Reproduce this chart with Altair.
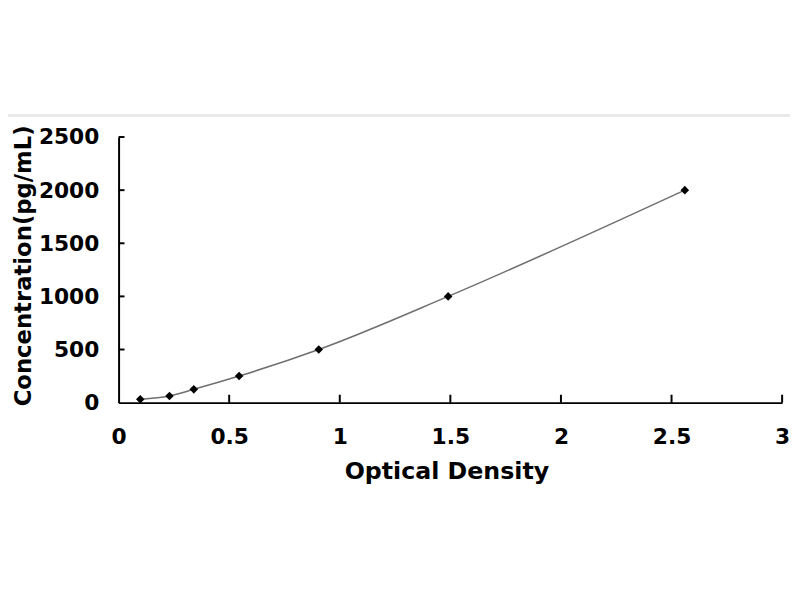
import altair as alt
import pandas as pd

od = [0.098, 0.23, 0.34, 0.545, 0.905, 1.49, 2.56]
conc = [31.25, 62.5, 125, 250, 500, 1000, 2000]
x_ticks = [0.5, 1, 1.5, 2, 2.5, 3]
y_ticks = [500, 1000, 1500, 2000, 2500]

df = pd.DataFrame({"od": od, "conc": conc})
xt = pd.DataFrame({"v": x_ticks})
yt = pd.DataFrame({"v": y_ticks})

FONT = "DejaVu Sans"
W, H = 672, 269

xscale = alt.Scale(domain=[0, 3], nice=False, zero=True)
yscale = alt.Scale(domain=[0, 2500], nice=False)

xaxis = alt.Axis(
    values=[0, 0.5, 1, 1.5, 2, 2.5, 3], format="~g", grid=False, ticks=False,
    domainColor="black", domainWidth=2, labelFont=FONT, labelFontSize=22,
    labelFontWeight="bold", labelColor="black", labelPadding=24,
    title="Optical Density", titleFont=FONT, titleFontSize=24,
    titleFontWeight="bold", titleColor="black", titleX=332, titleY=58,
    titleBaseline="top", titleAlign="center", labelFlush=False,
)
yaxis = alt.Axis(
    values=[0, 500, 1000, 1500, 2000, 2500], format="d", grid=False, ticks=False,
    domainColor="black", domainWidth=2, labelFont=FONT, labelFontSize=22,
    labelFontWeight="bold", labelColor="black", labelPadding=20,
    title="Concentration(pg/mL)", titleFont=FONT, titleFontSize=23,
    titleFontWeight="bold", titleColor="black", titleX=-96, titleY=130,
    titleAngle=270, titleAlign="center", titleBaseline="middle", labelFlush=False,
)

base = alt.Chart(df)

line = base.mark_line(color="#707070", strokeWidth=1.6, interpolate="monotone").encode(
    x=alt.X("od:Q", scale=xscale, axis=xaxis),
    y=alt.Y("conc:Q", scale=yscale, axis=yaxis),
)
points = base.mark_point(shape="diamond", filled=True, color="black", size=75, opacity=1).encode(
    x=alt.X("od:Q", scale=xscale),
    y=alt.Y("conc:Q", scale=yscale),
)
xticks = alt.Chart(xt).mark_rule(color="black", strokeWidth=2).encode(
    x=alt.X("v:Q", scale=xscale), y=alt.value(H), y2=alt.value(H - 8)
)
yticks = alt.Chart(yt).mark_rule(color="black", strokeWidth=2).encode(
    y=alt.Y("v:Q", scale=yscale), x=alt.value(0), x2=alt.value(6)
)
border = alt.Chart(xt).mark_rule(color="#e8e8e8", strokeWidth=2).encode(
    y=alt.value(-22), x=alt.value(-120), x2=alt.value(W + 8)
)

chart = alt.layer(border, line, xticks, yticks, points).properties(
    width=W, height=H,
    autosize=alt.AutoSizeParams(type="none"),
    padding={"left": 112, "top": 127, "right": 10, "bottom": 180},
    background="white",
).configure_view(stroke=None)

chart.save("out.html", embed_options={"renderer": "svg", "actions": False})
